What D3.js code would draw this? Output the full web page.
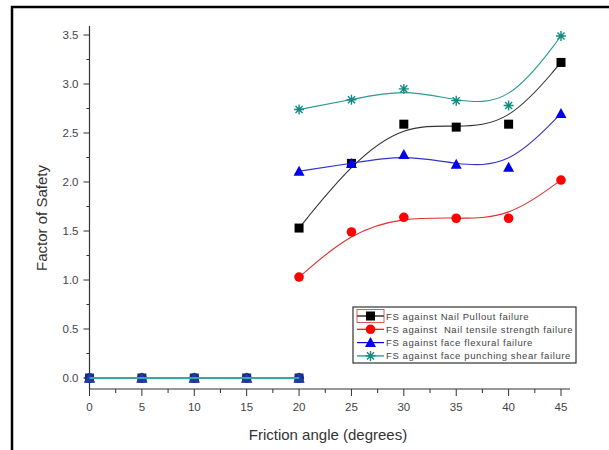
<!DOCTYPE html>
<html>
<head>
<meta charset="utf-8">
<script src="https://cdn.jsdelivr.net/npm/d3@7"></script>
<style>
  body { margin: 0; background: #fff; }
  svg { display: block; font-family: Arial, "Liberation Sans", sans-serif; }
</style>
</head>
<body>
<svg width="609" height="450"></svg>
<script>
// data
const angles = [20, 25, 30, 35, 40, 45];
const zeroAngles = [0, 5, 10, 15, 20];
const pullout = [1.53, 2.19, 2.59, 2.56, 2.59, 3.22];
const tensile = [1.03, 1.49, 1.64, 1.63, 1.63, 2.02];
const flexural = [2.11, 2.19, 2.28, 2.18, 2.15, 2.70];
const punching = [2.74, 2.84, 2.95, 2.83, 2.78, 3.49];
const seriesNames = [
  "FS against Nail Pullout failure",
  "FS against  Nail tensile strength failure",
  "FS against face flexural failure",
  "FS against face punching shear failure",
];
const xTicks = [0, 5, 10, 15, 20, 25, 30, 35, 40, 45];
const yTicks = [0, 0.5, 1, 1.5, 2, 2.5, 3, 3.5];

const svg = d3.select("svg");

// frame around picture
svg.append("line").attr("x1", 12).attr("x2", 12).attr("y1", 6).attr("y2", 450)
  .attr("stroke", "#000").attr("stroke-width", 2.5);
svg.append("line").attr("x1", 11).attr("x2", 609).attr("y1", 7).attr("y2", 7)
  .attr("stroke", "#000").attr("stroke-width", 2.5);

const x = d3.scaleLinear().domain([0, 45]).range([89.5, 561]);
const y = d3.scaleLinear().domain([0, 3.5]).range([378, 35]);
const axisColor = "#333";

// axes lines
const x0 = 89.5, yBottom = 389, yTop = 26, xRight = 570;
svg.append("line").attr("x1", x0).attr("x2", x0).attr("y1", yTop).attr("y2", yBottom)
  .attr("stroke", axisColor).attr("stroke-width", 1.2);
svg.append("line").attr("x1", x0).attr("x2", xRight).attr("y1", yBottom).attr("y2", yBottom)
  .attr("stroke", axisColor).attr("stroke-width", 1.2);

// y ticks
const yMinor = d3.range(0.25, 3.6, 0.5);
svg.append("g").selectAll("line").data(yTicks).join("line")
  .attr("x1", x0 - 6).attr("x2", x0).attr("y1", d => y(d)).attr("y2", d => y(d))
  .attr("stroke", axisColor);
svg.append("g").selectAll("line").data(yMinor).join("line")
  .attr("x1", x0 - 3).attr("x2", x0).attr("y1", d => y(d)).attr("y2", d => y(d))
  .attr("stroke", axisColor);
svg.append("g").attr("font-size", 11.5).attr("fill", "#444").attr("text-anchor", "end")
  .selectAll("text").data(yTicks).join("text")
  .attr("x", x0 - 11).attr("y", d => y(d) + 4)
  .text(d => d.toFixed(1));

// x ticks
const xMinor = d3.range(2.5, 46, 5);
svg.append("g").selectAll("line").data(xTicks).join("line")
  .attr("x1", d => x(d)).attr("x2", d => x(d)).attr("y1", yBottom).attr("y2", yBottom + 7)
  .attr("stroke", axisColor);
svg.append("g").selectAll("line").data(xMinor).join("line")
  .attr("x1", d => x(d)).attr("x2", d => x(d)).attr("y1", yBottom).attr("y2", yBottom + 4)
  .attr("stroke", axisColor);
svg.append("g").attr("font-size", 11.5).attr("fill", "#444").attr("text-anchor", "middle")
  .selectAll("text").data(xTicks).join("text")
  .attr("x", d => x(d)).attr("y", yBottom + 22)
  .text(d => d);

// titles
svg.append("text").attr("x", 328).attr("y", 440).attr("text-anchor", "middle")
  .attr("font-size", 15).attr("fill", "#333").text("Friction angle (degrees)");
svg.append("text").attr("transform", "translate(47,218) rotate(-90)").attr("text-anchor", "middle")
  .attr("font-size", 15).attr("fill", "#333").text("Factor of Safety");

// series
const series = [
  { name: seriesNames[0], values: pullout, color: "#000", line: "#333", symbol: "square" },
  { name: seriesNames[1], values: tensile, color: "#ff0000", line: "#e03030", symbol: "circle" },
  { name: seriesNames[2], values: flexural, color: "#0000ee", line: "#3333cc", symbol: "triangle" },
  { name: seriesNames[3], values: punching, color: "#128a80", line: "#2a9a90", symbol: "star" },
];

function drawMarker(g, s, px, py, fill) {
  const c = fill || s.color;
  if (s.symbol === "square") {
    g.append("rect").attr("x", px - 4.5).attr("y", py - 4.5).attr("width", 9).attr("height", 9)
      .attr("fill", c);
  } else if (s.symbol === "circle") {
    g.append("circle").attr("cx", px).attr("cy", py).attr("r", 4.8).attr("fill", c);
  } else if (s.symbol === "triangle") {
    g.append("path").attr("d", `M${px},${py - 5.5}L${px + 5.5},${py + 4.5}L${px - 5.5},${py + 4.5}Z`)
      .attr("fill", c);
  } else {
    const r = 5;
    let d = "";
    for (let a = 0; a < 4; a++) {
      const ang = a * Math.PI / 4;
      const dx = r * Math.cos(ang), dy = r * Math.sin(ang);
      d += `M${px - dx},${py - dy}L${px + dx},${py + dy}`;
    }
    g.append("path").attr("d", d).attr("stroke", c).attr("stroke-width", 1.4);
  }
}

const curve = d3.line().x(d => x(d[0])).y(d => y(d[1])).curve(d3.curveBasis);
const flat = d3.line().x(d => x(d)).y(() => y(0));

const plot = svg.append("g");
series.forEach(s => {
  const pts = angles.map((a, i) => [a, s.values[i]]);
  plot.append("path").attr("d", curve(pts)).attr("fill", "none")
    .attr("stroke", s.line).attr("stroke-width", 1.1);
  pts.forEach(p => drawMarker(plot, s, x(p[0]), y(p[1])));
});

// zero segment (all series overlap at 0, looks like a dark blue blob)
const zeroG = svg.append("g");
series.forEach(s => {
  zeroAngles.forEach(a => drawMarker(zeroG, s, x(a), y(0), s.symbol === "circle" ? "#1a2a8a" : "#13307a"));
});
series.forEach(s => {
  zeroAngles.forEach(a => {
    if (s.symbol === "triangle") drawMarker(zeroG, s, x(a), y(0), "#1f3aa8");
  });
});
zeroG.append("path").attr("d", flat(zeroAngles)).attr("fill", "none")
  .attr("stroke", "#3aa5a5").attr("stroke-width", 2);

// legend
const lg = svg.append("g").attr("transform", "translate(353,307)");
lg.append("rect").attr("width", 223).attr("height", 56).attr("fill", "#fff")
  .attr("stroke", "#333").attr("stroke-width", 1.2);
series.forEach((s, i) => {
  const ly = 9 + i * 13.3;
  lg.append("line").attr("x1", 4).attr("x2", 31).attr("y1", ly).attr("y2", ly)
    .attr("stroke", s.color).attr("stroke-width", 1.2);
  drawMarker(lg, s, 17.5, ly);
  lg.append("text").attr("x", 33).attr("y", ly + 3.5).attr("font-size", 9.5)
    .attr("letter-spacing", 0.6).attr("fill", "#444")
    .style("white-space", "pre").text(s.name);
});
lg.append("rect").attr("x", 4).attr("y", 2.5).attr("width", 27).attr("height", 13)
  .attr("fill", "none").attr("stroke", "#c33").attr("stroke-width", 0.8);
</script>
</body>
</html>
